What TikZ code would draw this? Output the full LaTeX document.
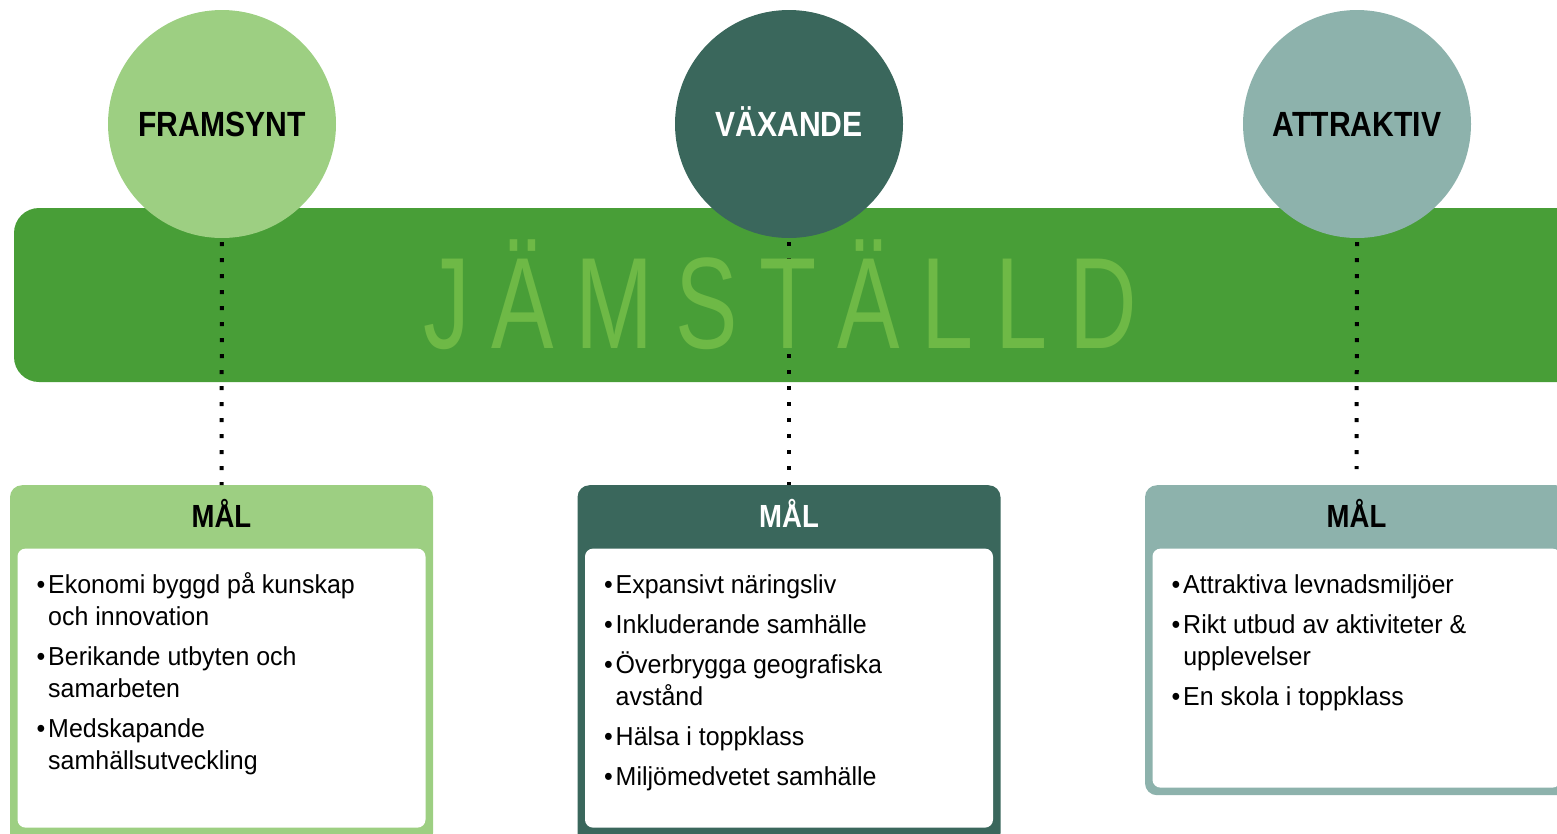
\documentclass[tikz,border=0pt]{standalone}
\usepackage{fontspec}
\setmainfont{Liberation Sans}[FakeStretch=0.96]
\newfontfamily\rubrikfont{Liberation Sans}[FakeStretch=0.86]
\newfontfamily\bandfont{Liberation Sans}[FakeStretch=0.72,LetterSpace=16.6]
\usetikzlibrary{positioning}
\definecolor{ljusgron}{HTML}{9DCF82}
\definecolor{morkgron}{HTML}{3A675C}
\definecolor{gragron}{HTML}{8DB2AC}
\definecolor{bandgron}{HTML}{489E37}
\definecolor{bandtext}{HTML}{6EB946}
\begin{document}
\begin{tikzpicture}[x=1pt,y=-1pt]
	\tikzset{mal/.style={circle, minimum size=228pt, inner sep=0pt, text height=25pt, text depth=0pt, font=\rubrikfont\fontsize{35}{35}\selectfont\bfseries}}
	\tikzset{ram/.style={rounded corners=12pt, minimum width=423pt, anchor=north, inner sep=0pt}}
	\tikzset{rubrik/.style={minimum height=62pt, anchor=north, inner sep=0pt, text height=23pt, text depth=0pt, font=\rubrikfont\fontsize{32}{32}\selectfont\bfseries}}
	\tikzset{lista/.style={fill=white, rounded corners=8pt, minimum width=408pt, anchor=north, inner sep=0pt}}
	\tikzset{punkt/.style={anchor=north west, align=left, inner sep=0pt, font=\fontsize{26}{32}\selectfont}}
	\tikzset{prick/.style={dash pattern=on 4pt off 12pt, line width=4pt}}
	\newcommand{\ind}{\hphantom{\textbullet\hspace{3pt}}}
	\useasboundingbox (0,0) rectangle (1557,833);

	\fill[bandgron, rounded corners=25pt] (14,208) rectangle (1600,382);

	\node[mal, fill=ljusgron]				(framsynt)	at (222,124)	{FRAMSYNT};
	\node[mal, fill=morkgron, text=white]	(vaxande)	at (789,124)	{VÄXANDE};
	\node[mal, fill=gragron]				(attraktiv)	at (1357,124)	{ATTRAKTIV};

	\node[ram, fill=ljusgron, minimum height=360pt]	(ramA) at (221.5,485)	{};
	\node[ram, fill=morkgron, minimum height=360pt]	(ramB) at (789,485)		{};
	\node[ram, fill=gragron, minimum height=310pt]	(ramC) at (1356.5,485)	{};
	\node[rubrik]						(malA) at (ramA.north)	{MÅL};
	\node[rubrik, text=white]			(malB) at (ramB.north)	{MÅL};
	\node[rubrik]						(malC) at (ramC.north)	{MÅL};
	\node[lista, minimum height=279pt]	(listaA) [below=1pt of malA]	{};
	\node[lista, minimum height=279pt]	(listaB) [below=1pt of malB]	{};
	\node[lista, minimum height=239pt]	(listaC) [below=1pt of malC]	{};

	\node[punkt] (punktA) at ([shift={(19,22)}]listaA.north west)
		{\strut\textbullet\hspace{3pt}Ekonomi byggd på kunskap\\\ind och innovation\\[8pt]
		 \textbullet\hspace{3pt}Berikande utbyten och\\\ind samarbeten\\[8pt]
		 \textbullet\hspace{3pt}Medskapande\\\ind samhällsutveckling};
	\node[punkt] (punktB) at ([shift={(19,22)}]listaB.north west)
		{\strut\textbullet\hspace{3pt}Expansivt näringsliv\\[8pt]
		 \textbullet\hspace{3pt}Inkluderande samhälle\\[8pt]
		 \textbullet\hspace{3pt}Överbrygga geografiska\\\ind avstånd\\[8pt]
		 \textbullet\hspace{3pt}Hälsa i toppklass\\[8pt]
		 \textbullet\hspace{3pt}Miljömedvetet samhälle};
	\node[punkt] (punktC) at ([shift={(19,22)}]listaC.north west)
		{\strut\textbullet\hspace{3pt}Attraktiva levnadsmiljöer\\[8pt]
		 \textbullet\hspace{3pt}Rikt utbud av aktiviteter \&\\\ind upplevelser\\[8pt]
		 \textbullet\hspace{3pt}En skola i toppklass};

	\path
		(framsynt.south)	edge[prick, shorten <=4pt]					(ramA.north)
		(vaxande.south)		edge[prick, shorten <=4pt]					(ramB.north)
		(attraktiv.south)	edge[prick, shorten <=4pt, shorten >=16pt]	(ramC.north)
		;

	\node[anchor=base west, inner sep=0pt, text=bandtext, font=\bandfont\fontsize{130}{130}\selectfont]
		(jamstalld) at (423,348) {JÄMSTÄLLD};
\end{tikzpicture}
\end{document}
